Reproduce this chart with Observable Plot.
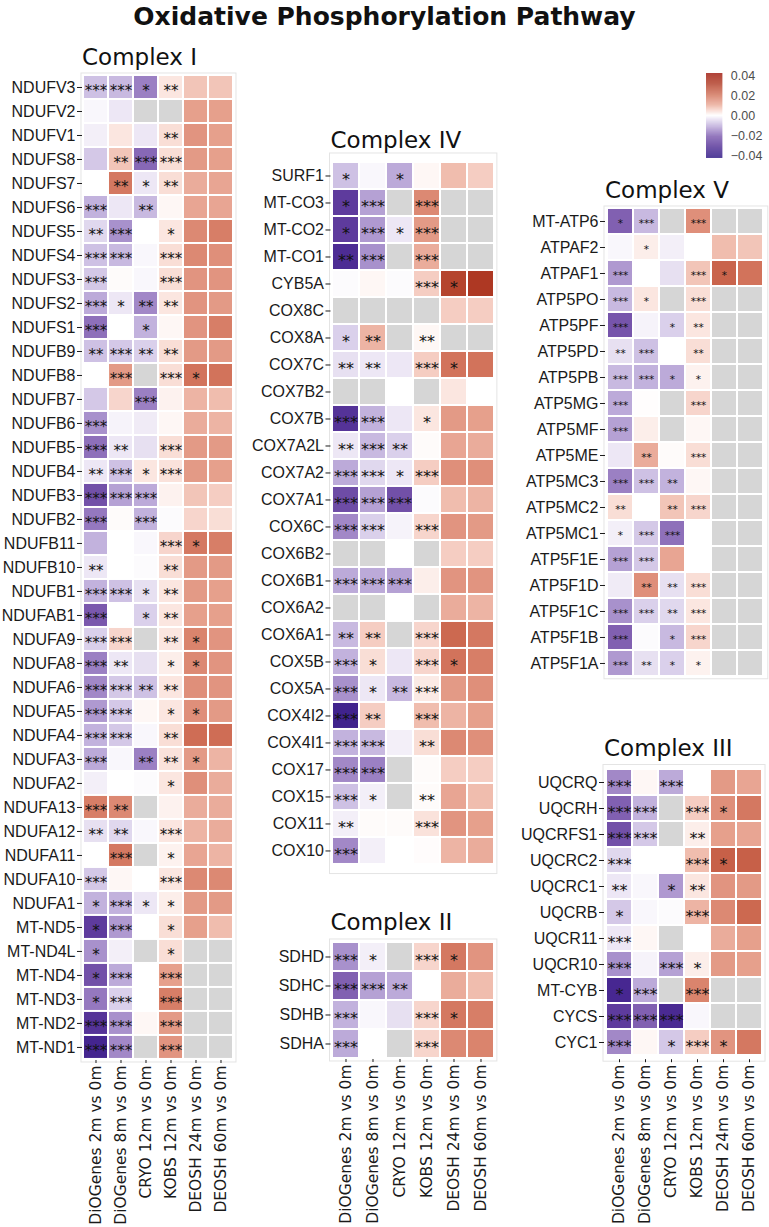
<!DOCTYPE html>
<html><head><meta charset="utf-8">
<script src="https://cdn.jsdelivr.net/npm/d3@7"></script>
<script src="https://cdn.jsdelivr.net/npm/@observablehq/plot@0.6"></script>
<style>
body{margin:0;background:#fff;}
#root{position:relative;width:769px;height:1227px;overflow:hidden;font-family:"DejaVu Sans",sans-serif;color:#111;}
.title{position:absolute;left:0;width:769px;text-align:center;font-weight:bold;font-size:25px;line-height:1;}
.ptitle{position:absolute;font-size:23px;line-height:1;white-space:nowrap;color:#111;}
svg g[aria-label="x-axis tick label"] text{font-family:"DejaVu Sans",sans-serif;}
</style></head><body><div id="root"></div>
<script>
const comparisons = ["DiOGenes 2m vs 0m","DiOGenes 8m vs 0m","CRYO 12m vs 0m","KOBS 12m vs 0m","DEOSH 24m vs 0m","DEOSH 60m vs 0m"];

const complexI_genes = ["NDUFV3","NDUFV2","NDUFV1","NDUFS8","NDUFS7","NDUFS6","NDUFS5","NDUFS4","NDUFS3","NDUFS2","NDUFS1","NDUFB9","NDUFB8","NDUFB7","NDUFB6","NDUFB5","NDUFB4","NDUFB3","NDUFB2","NDUFB11","NDUFB10","NDUFB1","NDUFAB1","NDUFA9","NDUFA8","NDUFA6","NDUFA5","NDUFA4","NDUFA3","NDUFA2","NDUFA13","NDUFA12","NDUFA11","NDUFA10","NDUFA1","MT-ND5","MT-ND4L","MT-ND4","MT-ND3","MT-ND2","MT-ND1"];
const complexI_values = [
[-0.008,-0.009,-0.016,0.003,0.007,0.007],
[-0.001,-0.003,null,null,0.012,0.012],
[-0.002,0.003,-0.003,0.004,0.014,0.012],
[-0.007,0.007,-0.019,0.004,0.013,0.012],
[0,0.019,-0.003,0.004,0.010,0.011],
[-0.010,-0.003,-0.009,0.001,0.011,0.011],
[-0.005,-0.014,0,0.003,0.016,0.018],
[-0.008,-0.009,-0.001,0.004,0.016,0.015],
[-0.007,0.0005,-0.001,0.004,0.014,0.014],
[-0.011,-0.003,-0.015,0.003,0.014,0.013],
[-0.018,0,-0.010,0.001,0.014,0.018],
[-0.008,-0.007,-0.006,0.004,0.013,0.013],
[0,0.013,null,0.004,0.020,0.020],
[-0.007,0.005,-0.016,0.0015,0.009,0.008],
[-0.014,-0.0015,-0.0025,0.001,0.010,0.009],
[-0.018,-0.003,-0.004,0.004,0.013,0.013],
[-0.003,-0.008,0.003,0.0035,0.013,0.012],
[-0.023,-0.012,-0.011,0.0015,0.007,0.006],
[-0.017,0.0005,-0.010,-0.0005,0.005,0.004],
[-0.010,0,-0.001,0.005,0.019,0.018],
[-0.003,0,-0.0005,0.004,0.013,0.013],
[-0.010,-0.008,-0.004,0.003,0.013,0.012],
[-0.021,0,-0.006,0.003,0.012,0.012],
[-0.006,0.005,null,0.003,0.017,0.014],
[-0.016,-0.003,-0.004,0.002,0.016,0.014],
[-0.015,-0.007,-0.008,0.003,0.015,0.014],
[-0.013,-0.007,0.001,0.003,0.015,0.013],
[-0.010,-0.007,-0.001,0.004,0.021,0.021],
[-0.011,-0.001,-0.016,0.0035,0.013,0.009],
[-0.002,0,-0.0005,0.003,0.015,0.010],
[0.018,0.016,null,0.0015,0.010,0.010],
[-0.004,-0.005,-0.001,0.003,0.009,0.010],
[0,0.019,null,0.0015,0.011,0.009],
[-0.007,0.001,0,0.003,0.016,0.016],
[-0.010,-0.010,-0.003,0.002,0.013,0.013],
[-0.028,-0.013,0,0.004,0.012,0.008],
[-0.014,-0.002,null,0.004,null,null],
[-0.023,-0.011,0,0.012,null,null],
[-0.017,-0.006,0,0.018,null,null],
[-0.030,-0.014,0.001,0.013,null,null],
[-0.035,-0.015,null,0.014,null,null]];
const complexI_stars = [
["***","***","*","**","",""],
["","","","","",""],
["","","","**","",""],
["","**","***","***","",""],
["","**","*","**","",""],
["***","","**","","",""],
["**","***","","*","",""],
["***","***","","***","",""],
["***","","","***","",""],
["***","*","**","**","",""],
["***","","*","","",""],
["**","***","**","**","",""],
["","***","","***","*",""],
["","","***","","",""],
["***","","","","",""],
["***","**","","***","",""],
["**","***","*","***","",""],
["***","***","***","","",""],
["***","","***","","",""],
["","","","***","*",""],
["**","","","**","",""],
["***","***","*","**","",""],
["***","","*","**","",""],
["***","***","","**","*",""],
["***","**","","*","*",""],
["***","***","**","**","",""],
["***","***","","*","*",""],
["***","***","","**","",""],
["***","","**","**","*",""],
["","","","*","",""],
["***","**","","","",""],
["**","**","","***","",""],
["","***","","*","",""],
["***","","","***","",""],
["*","***","*","*","",""],
["*","***","","*","",""],
["*","","","*","",""],
["*","***","","***","",""],
["*","***","","***","",""],
["***","***","","***","",""],
["***","***","","***","",""]];

const complexIV_genes = ["SURF1","MT-CO3","MT-CO2","MT-CO1","CYB5A","COX8C","COX8A","COX7C","COX7B2","COX7B","COX7A2L","COX7A2","COX7A1","COX6C","COX6B2","COX6B1","COX6A2","COX6A1","COX5B","COX5A","COX4I2","COX4I1","COX17","COX15","COX11","COX10"];
const complexIV_values = [
[-0.008,-0.001,-0.011,0.001,0.008,0.006],
[-0.028,-0.012,null,0.016,null,null],
[-0.028,-0.013,-0.003,0.013,null,null],
[-0.032,-0.014,null,0.010,null,null],
[-0.0005,0.001,-0.0005,0.006,0.030,0.033],
[null,null,null,null,0.006,0.006],
[-0.006,0.009,null,0.001,null,null],
[-0.004,-0.003,-0.003,0.006,0.020,0.020],
[null,null,0,null,0.003,0],
[-0.030,-0.010,-0.003,0.003,0.013,0.012],
[-0.003,-0.009,-0.006,0.0005,0.011,0.010],
[-0.011,-0.005,-0.003,0.006,0.015,0.015],
[-0.024,-0.012,-0.023,-0.0005,0.008,0.009],
[-0.015,-0.006,-0.0015,0.005,0.014,0.013],
[null,null,0,null,0.006,0.006],
[-0.011,-0.011,-0.012,0.002,0.014,0.014],
[null,null,0,null,0.010,0.009],
[-0.009,0.006,null,0.005,0.022,0.019],
[-0.010,0.004,-0.003,0.005,0.020,0.018],
[-0.014,-0.003,-0.009,0.0025,0.013,0.015],
[-0.036,0.006,0,0.008,0.009,0.012],
[-0.010,-0.009,-0.002,0.004,0.016,0.015],
[-0.015,-0.016,null,0.0005,0.006,0.006],
[-0.008,-0.002,null,0.0005,0.011,0.008],
[-0.002,0.0005,0.0005,0.0035,0.014,0.012],
[-0.015,-0.002,0,0.0003,0.009,0.010]];
const complexIV_stars = [
["*","","*","","",""],
["*","***","","***","",""],
["*","***","*","***","",""],
["**","***","","***","",""],
["","","","***","*",""],
["","","","","",""],
["*","**","","**","",""],
["**","**","","***","*",""],
["","","","","",""],
["***","***","","*","",""],
["**","***","**","","",""],
["***","***","*","***","",""],
["***","***","***","","",""],
["***","***","","***","",""],
["","","","","",""],
["***","***","***","","",""],
["","","","","",""],
["**","**","","***","",""],
["***","*","","***","*",""],
["***","*","**","***","",""],
["***","**","","***","",""],
["***","***","","**","",""],
["***","***","","","",""],
["***","*","","**","",""],
["**","","","***","",""],
["***","","","","",""]];

const complexII_genes = ["SDHD","SDHC","SDHB","SDHA"];
const complexII_values = [
[-0.014,-0.002,null,0.005,0.019,0.014],
[-0.020,-0.012,-0.011,0,0.010,0.008],
[-0.010,-0.001,-0.004,0.005,0.019,0.018],
[-0.011,0,null,0.005,0.016,0.017]];
const complexII_stars = [
["***","*","","***","*",""],
["***","***","**","","",""],
["***","","","***","*",""],
["***","","","***","",""]];

const complexV_genes = ["MT-ATP6","ATPAF2","ATPAF1","ATP5PO","ATP5PF","ATP5PD","ATP5PB","ATP5MG","ATP5MF","ATP5ME","ATP5MC3","ATP5MC2","ATP5MC1","ATP5F1E","ATP5F1D","ATP5F1C","ATP5F1B","ATP5F1A"];
const complexV_values = [
[-0.020,-0.009,null,0.015,null,null],
[-0.001,0.002,-0.002,0,0.008,0.007],
[-0.013,0,-0.004,0.007,0.023,0.020],
[-0.009,0.003,null,0.004,null,null],
[-0.022,-0.0015,-0.006,0.003,null,null],
[-0.004,-0.008,0,0.004,null,null],
[-0.009,-0.010,-0.011,0.0015,null,null],
[-0.011,0.0002,null,0.005,null,null],
[-0.012,0.002,null,0.001,null,null],
[-0.003,0.010,0.0005,0.004,null,null],
[-0.016,-0.008,-0.010,0.001,null,null],
[0.004,0,0.007,0.005,null,null],
[-0.002,-0.007,-0.018,0,null,null],
[-0.012,-0.007,0.011,0,null,null],
[-0.0025,0.015,-0.004,0.004,null,null],
[-0.014,-0.006,-0.005,0.003,null,null],
[-0.020,-0.0005,-0.009,0.005,null,null],
[-0.013,-0.004,-0.006,0.0015,null,null]];
const complexV_stars = [
["*","***","","***","",""],
["","*","","","",""],
["***","","","***","*",""],
["***","*","","***","",""],
["***","","*","**","",""],
["**","***","","**","",""],
["***","***","*","*","",""],
["***","","","***","",""],
["***","","","","",""],
["","**","","***","",""],
["***","***","**","","",""],
["**","","**","***","",""],
["*","***","***","","",""],
["***","***","","","",""],
["","**","**","***","",""],
["***","***","**","***","",""],
["***","","*","***","",""],
["***","**","*","*","",""]];

const complexIII_genes = ["UQCRQ","UQCRH","UQCRFS1","UQCRC2","UQCRC1","UQCRB","UQCR11","UQCR10","MT-CYB","CYCS","CYC1"];
const complexIII_values = [
[-0.015,0.001,-0.011,0,0.013,0.011],
[-0.020,-0.010,null,0.006,0.015,0.019],
[-0.023,-0.007,null,0.002,0.012,0.011],
[-0.005,0,0,0.008,0.024,0.024],
[-0.003,-0.001,-0.013,0.003,0.014,0.013],
[-0.007,-0.001,-0.0005,0.009,0.016,0.022],
[-0.003,0.001,null,0,0.010,0.012],
[-0.014,-0.0015,-0.012,0.002,0.013,0.012],
[-0.034,-0.011,null,0.017,null,null],
[-0.028,-0.020,-0.033,-0.001,null,null],
[-0.015,0.001,-0.007,0.006,0.014,0.019]];
const complexIII_stars = [
["***","","***","","",""],
["***","***","","***","*",""],
["***","***","","**","",""],
["***","","","***","*",""],
["**","","*","**","",""],
["*","","","***","",""],
["***","","","","",""],
["***","","***","*","",""],
["*","***","","***","",""],
["***","***","***","","",""],
["***","","*","***","*",""]];

const legendTicks = [-0.04,-0.02,0,0.02,0.04];

// palette anchors: -0.042 … 0 … +0.042
const paletteColors = ["#2b1583", "#4f2d95", "#7a58ad", "#bfaedb", "#ffffff", "#e9a896", "#cf6d55", "#b13d27", "#9f160e"];
const interp = d3.piecewise(d3.interpolateLab, paletteColors);
const colorScale = {type: "diverging", domain: [-0.042, 0.042], pivot: 0, interpolate: interp};

const root = document.getElementById("root");
function addDiv(cls, text, left, top, extra) {
  const d = document.createElement("div");
  d.className = cls; d.textContent = text;
  d.style.left = left + "px"; d.style.top = top + "px";
  if (extra) Object.assign(d.style, extra);
  root.appendChild(d);
}

function heat(cfg) {
  const {genes, values, stars, left, top, x0, y0, colStep, rowStep, xAxis, labelSize, starSize, title, titleBase} = cfg;
  const mL = x0 - left, mT = y0 - top, mR = 3;
  const bottom = y0 + rowStep * genes.length;
  const mB = xAxis ? 1227 - bottom : 3;
  const w = mL + colStep * comparisons.length + mR;
  const h = mT + rowStep * genes.length + mB;
  const data = genes.flatMap((g, i) => comparisons.map((c, j) => ({gene: g, comp: c, v: values[i][j], s: stars[i][j]})));
  const marks = [
    Plot.frame({stroke: "#e4e4e4", inset: -1.5}),
    Plot.cell(data.filter(d => d.v === null), {x: "comp", y: "gene", fill: "#d6d6d6", inset: 1}),
    Plot.cell(data.filter(d => d.v !== null), {x: "comp", y: "gene", fill: "v", inset: 1}),
    Plot.text(data.filter(d => d.s), {x: "comp", y: "gene", text: "s", fontSize: starSize, fontFamily: "DejaVu Sans", dy: starSize * 0.25, fill: "#111"}),
    Plot.axisY({tickSize: 5, tickPadding: 2, fontSize: labelSize, label: null, fontFamily: "Liberation Sans, Arial, sans-serif"})
  ];
  if (xAxis) marks.push(Plot.axisX({tickRotate: -90, tickSize: 3, tickPadding: 2, fontSize: 15.5, label: null, fontFamily: "DejaVu Sans"}));
  const svg = Plot.plot({
    width: w, height: h,
    marginLeft: mL, marginRight: mR, marginTop: mT, marginBottom: mB,
    x: xAxis ? {domain: comparisons, padding: 0} : {domain: comparisons, padding: 0, axis: null},
    y: {domain: genes, padding: 0},
    color: colorScale,
    style: {background: "transparent", color: "#1a1a1a", fontFamily: "Liberation Sans, Arial, sans-serif", overflow: "visible"},
    marks
  });
  svg.style.position = "absolute";
  svg.style.left = left + "px";
  svg.style.top = top + "px";
  root.appendChild(svg);
  addDiv("ptitle", title, x0, titleBase - 19.5);
}

addDiv("title", "Oxidative Phosphorylation Pathway", 0, 4);

heat({title: "Complex I", titleBase: 65, genes: complexI_genes, values: complexI_values, stars: complexI_stars,
  left: 0, top: 71, x0: 82, y0: 74, colStep: 25.33, rowStep: 24.05, xAxis: true, labelSize: 16, starSize: 15});
heat({title: "Complex IV", titleBase: 148, genes: complexIV_genes, values: complexIV_values, stars: complexIV_stars,
  left: 250, top: 151, x0: 330.5, y0: 154, colStep: 27.4, rowStep: 27.6, xAxis: false, labelSize: 16, starSize: 16});
heat({title: "Complex II", titleBase: 930, genes: complexII_genes, values: complexII_values, stars: complexII_stars,
  left: 250, top: 937, x0: 330.5, y0: 940, colStep: 27.4, rowStep: 29.75, xAxis: true, labelSize: 16, starSize: 16});
heat({title: "Complex V", titleBase: 198, genes: complexV_genes, values: complexV_values, stars: complexV_stars,
  left: 512, top: 204, x0: 605, y0: 207, colStep: 26.8, rowStep: 26.1, xAxis: false, labelSize: 16, starSize: 10.5});
heat({title: "Complex III", titleBase: 756, genes: complexIII_genes, values: complexIII_values, stars: complexIII_stars,
  left: 512, top: 762, x0: 604, y0: 765.5, colStep: 26.5, rowStep: 26.7, xAxis: true, labelSize: 16, starSize: 16});

// colour bar legend
(function () {
  const strips = d3.range(-0.042, 0.042, 0.0005);
  const svg = Plot.plot({
    width: 16.3 + 45, height: 85 + 6,
    marginLeft: 0, marginRight: 45, marginTop: 3, marginBottom: 3,
    x: {domain: [0, 1], axis: null},
    y: {domain: [-0.042, 0.042], axis: null},
    color: colorScale,
    style: {background: "transparent", color: "#4d4d4d", fontFamily: "Liberation Sans, Arial, sans-serif", overflow: "visible"},
    marks: [
      Plot.rect(strips, {x1: 0, x2: 1, y1: d => d, y2: d => Math.min(d + 0.0006, 0.042), fill: d => d}),
      Plot.axisY(legendTicks, {anchor: "right", tickSize: 0, tickPadding: 8, fontSize: 12.5, tickFormat: d3.format(".2f"), label: null})
    ]
  });
  svg.style.position = "absolute";
  svg.style.left = "705.7px";
  svg.style.top = "70.3px";
  root.appendChild(svg);
})();
</script></body></html>
